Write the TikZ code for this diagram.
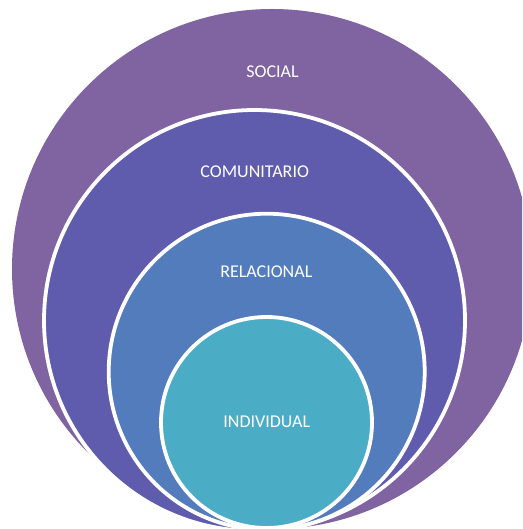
\documentclass[tikz,border=0pt]{standalone}
\usepackage{fontspec}
\setmainfont{Carlito}
\definecolor{cSocial}{HTML}{8064A2}
\definecolor{cComun}{HTML}{5F5BAD}
\definecolor{cRel}{HTML}{527CBC}
\definecolor{cInd}{HTML}{4AACC5}
\begin{document}
\begin{tikzpicture}[x=1pt,y=-1pt,
  ring/.style={circle,inner sep=0pt,outer sep=0pt,draw=white,line width=3.8pt},
  lbl/.style={text=white,font=\fontsize{18}{21}\selectfont}]
\useasboundingbox (0,0) rectangle (522,529);
\clip (0,0) rectangle (522,529);
\node[circle,inner sep=0pt,fill=cSocial,minimum size=520pt] (social) at (272,269) {};
\node[ring,fill=cComun,minimum size=421pt] (comun) at (254.5,320.5) {};
\node[ring,fill=cRel,minimum size=316pt] (rel) at (266.7,371.7) {};
\node[ring,fill=cInd,minimum size=211pt] (ind) at (266.5,422.5) {};
\node[lbl] (tSocial) at (272.5,71.5) {SOCIAL};
\node[lbl] (tComun) at (254.7,172) {COMUNITARIO};
\node[lbl] (tRel) at (266.3,272) {RELACIONAL};
\node[lbl] (tInd) at (266.7,422) {INDIVIDUAL};
\end{tikzpicture}
\end{document}
